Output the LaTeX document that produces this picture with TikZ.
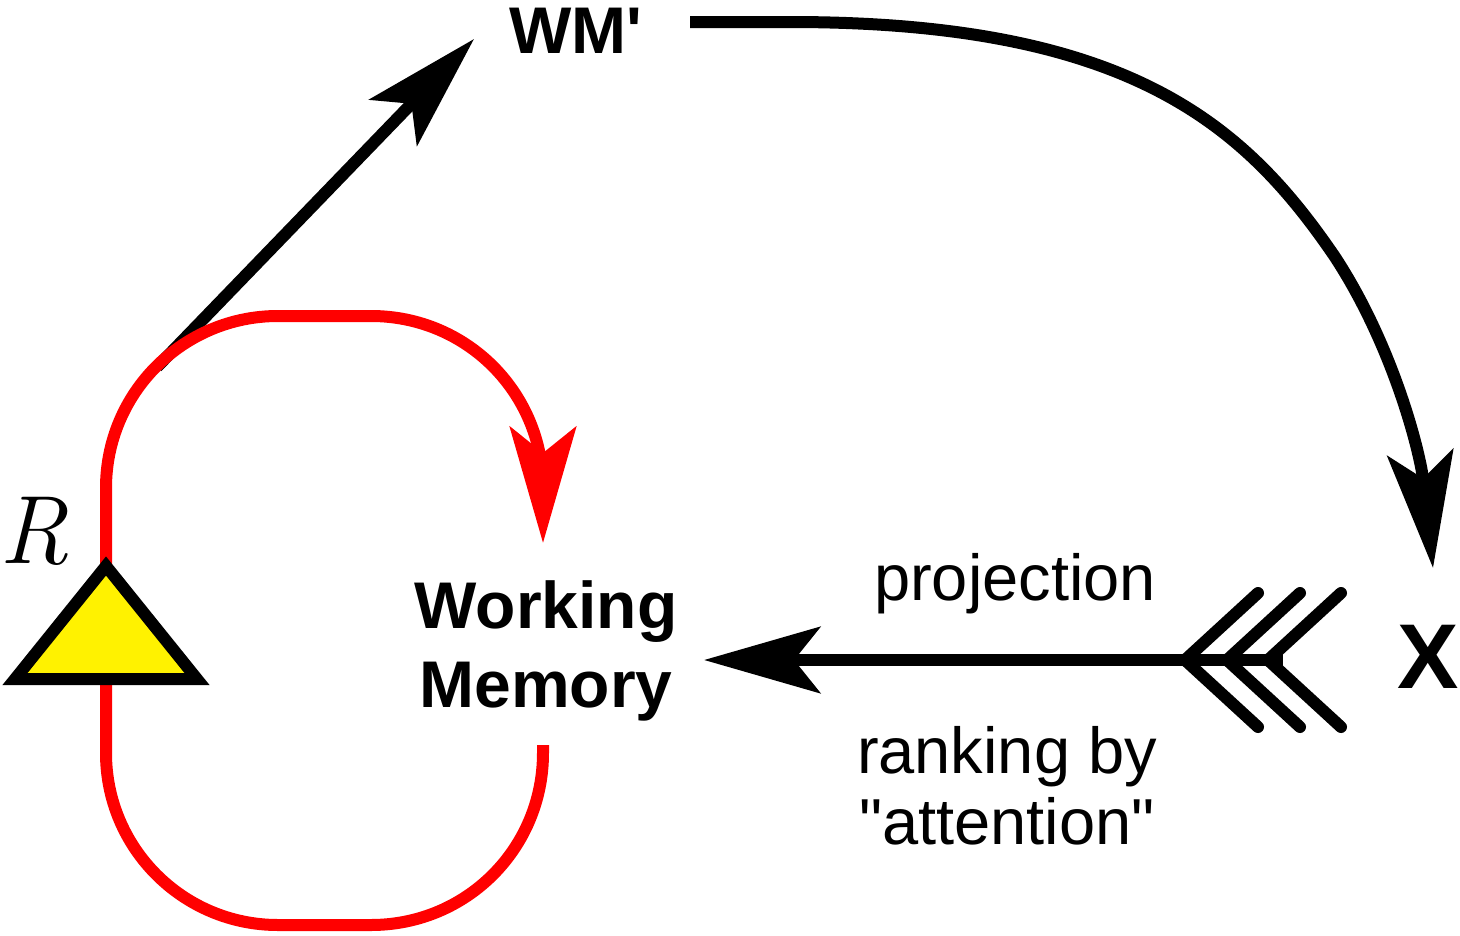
\documentclass[tikz,border=0pt]{standalone}
\usepackage{fontspec}
\usetikzlibrary{arrows.meta}
\newfontfamily\lsans{Liberation Sans}
\begin{document}
\begin{tikzpicture}[x=1pt,y=-1pt,
  redline/.style={draw=red, line width=12pt},
  blackline/.style={draw=black, line width=12pt},
  bigarrow/.style={-{Stealth[length=116pt,width=66pt,inset=26pt]}},
  lbl/.style={inner sep=0pt, font={\lsans\fontsize{65}{71}\selectfont}},
  boldlbl/.style={inner sep=0pt, font={\lsans\bfseries\fontsize{66}{79}\selectfont}},
  feather/.style={draw=black, line width=12pt, line cap=round, line join=miter}]
\useasboundingbox (0,0) rectangle (1460,935);
% labels
\node[boldlbl, anchor=base] (wmp) at (576,53) {WM\textquotesingle};
\node[boldlbl, align=center] (wm) at (546,651) {Working\\Memory};
\node[inner sep=0pt, anchor=base, font={\lsans\bfseries\fontsize{92}{100}\selectfont}] (x) at (1428,688) {X};
\node[lbl, anchor=base] (proj) at (1015,600) {projection};
\node[lbl, align=center] (rank) at (1007,786) {ranking by\\"attention"};
\node[inner sep=0pt, anchor=base, font={\fontsize{97}{100}\selectfont\itshape}] (r) at (34,563) {R};
% coordinates
\coordinate (wmIn) at (543,543);
\coordinate (wmOut) at (543,745);
\coordinate (rTop) at (106,566);
\coordinate (rLeft) at (15,679);
\coordinate (rRight) at (197,679);
\coordinate (loopTL) at (157,367);
\coordinate (wmpIn) at (474,39);
\coordinate (wmpOut) at (690,22);
\coordinate (xIn) at (1433,568);
\coordinate (projTip) at (704,660);
\coordinate (projTail) at (1283,660);
\coordinate (f1) at (1185,660);
\coordinate (f2) at (1227,660);
\coordinate (f3) at (1268,660);
% black arrow to WM' (under the red loop)
\draw[blackline, bigarrow] (loopTL) -- (wmpIn);
% red loop
\draw[redline, bigarrow] (wmOut) -- (543,753)
  .. controls (543,848) and (467,925) .. (371,925) -- (278,925)
  .. controls (183,925) and (106,848) .. (106,753) -- (106,488)
  .. controls (106,393) and (183,316) .. (278,316) -- (371,316)
  .. controls (467,316) and (543,393) .. (543,488) -- (wmIn);
% triangle
\draw[line width=12pt, fill=yellow, line join=miter] (rTop) -- (rLeft) -- (rRight) -- cycle;
% black arrows
\draw[blackline, bigarrow] (wmpOut) -- (790,22) .. controls (1130,22) and (1245,125) .. (1335,257) .. controls (1392,344) and (1420,450) .. (xIn);
\draw[blackline, bigarrow] (projTail) -- (projTip);
\foreach \f in {f1,f2,f3}{
  \draw[feather] (\f) ++(73,-67) -- (\f) -- ++(73,67);
}
\end{tikzpicture}
\end{document}
